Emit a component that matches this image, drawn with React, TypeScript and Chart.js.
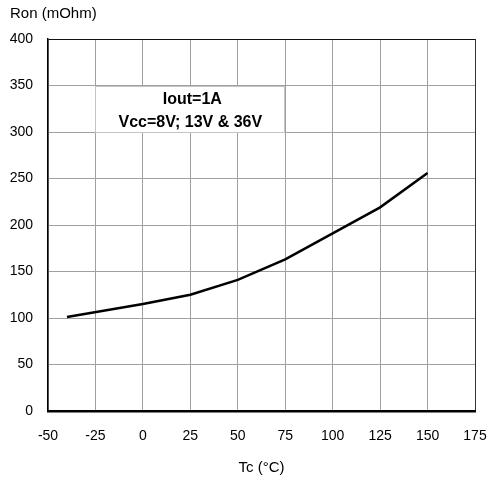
import React, { useEffect, useRef } from "react";
import { Chart, registerables } from "chart.js";

Chart.register(...registerables);

const tempC = [-40, 0, 25, 50, 75, 100, 125, 150];
const ronMOhm = [101, 115, 125, 141, 163, 191, 219, 256];
const xTicks = [-50, -25, 0, 25, 50, 75, 100, 125, 150, 175];
const yTicks = [0, 50, 100, 150, 200, 250, 300, 350, 400];
const noteLines = ["Iout=1A", "Vcc=8V; 13V & 36V"];
const noteBox = { x0: -25, x1: 75, y0: 300, y1: 350, xText: 25 };
const yTitle = "Ron (mOhm)";
const xTitle = "Tc (°C)";

const FONT = "'Liberation Sans', Arial, sans-serif";

const overlay = {
  id: "overlay",
  afterDraw(chart: any) {
    const { ctx, scales } = chart;
    const xs = scales.x;
    const ys = scales.y;
    const l = Math.round(xs.getPixelForValue(noteBox.x0));
    const r = Math.round(xs.getPixelForValue(noteBox.x1));
    const t = Math.round(ys.getPixelForValue(noteBox.y1));
    const b = Math.round(ys.getPixelForValue(noteBox.y0));
    ctx.save();
    ctx.fillStyle = "#ffffff";
    ctx.fillRect(l, t, r - l, b - t);
    ctx.strokeStyle = "#c4c4c4";
    ctx.lineWidth = 1;
    ctx.strokeRect(l + 0.5, t + 0.5, r - l - 1, b - t);
    ctx.fillStyle = "#000000";
    ctx.font = `bold 16px ${FONT}`;
    ctx.textAlign = "center";
    ctx.textBaseline = "middle";
    const cx = xs.getPixelForValue(noteBox.xText);
    ctx.fillText(noteLines[0], cx + 2, t + 14);
    ctx.fillText(noteLines[1], cx, t + 37);
    // y title
    ctx.font = `15px ${FONT}`;
    ctx.textAlign = "left";
    ctx.fillText(yTitle, 10, 14);
    ctx.restore();
  },
};

export default function App() {
  const ref = useRef<HTMLCanvasElement>(null);
  useEffect(() => {
    document.body.style.margin = "0";
    const chart = new Chart(ref.current!, {
      type: "line",
      data: {
        datasets: [
          {
            data: tempC.map((x, i) => ({ x, y: ronMOhm[i] })),
            borderColor: "#000000",
            borderWidth: 2.5,
            pointRadius: 0,
            tension: 0,
            fill: false,
          },
        ],
      },
      options: {
        animation: false,
        responsive: false,
        devicePixelRatio: 1,
        layout: { padding: { top: 39, right: 16, left: 0, bottom: 0 } },
        plugins: { legend: { display: false }, tooltip: { enabled: false }, title: { display: false } },
        scales: {
          x: {
            type: "linear",
            min: -50,
            max: 175,
            afterBuildTicks: (s: any) => {
              s.ticks = xTicks.map((v) => ({ value: v }));
            },
            afterFit: (s: any) => {
              s.height = 69;
              s.paddingLeft = 0;
              s.paddingRight = 0;
            },
            ticks: {
              color: "#000000",
              font: { family: FONT, size: 14 },
              padding: 17,
              maxRotation: 0,
              autoSkip: false,
            },
            grid: {
              drawTicks: false,
              color: (c: any) => (c.tick && c.tick.value === 175 ? "#333333" : "#a0a0a0"),
              lineWidth: 1,
            },
            border: { color: "#000000", width: 2.5 },
            title: {
              display: true,
              text: xTitle,
              color: "#000000",
              font: { family: FONT, size: 15 },
              padding: { top: 0, bottom: 3 },
            },
          },
          y: {
            type: "linear",
            min: 0,
            max: 400,
            afterBuildTicks: (s: any) => {
              s.ticks = yTicks.map((v) => ({ value: v }));
            },
            afterFit: (s: any) => {
              s.width = 48;
              s.paddingTop = 0;
              s.paddingBottom = 0;
            },
            ticks: {
              color: "#000000",
              font: { family: FONT, size: 14 },
              padding: 15,
              autoSkip: false,
            },
            grid: {
              drawTicks: false,
              color: (c: any) => (c.tick && c.tick.value === 400 ? "#111111" : "#a0a0a0"),
              lineWidth: 1,
            },
            border: { color: "#000000", width: 1.5 },
          },
        },
      },
      plugins: [overlay],
    });
    return () => chart.destroy();
  }, []);
  return (
    <div style={{ width: 491, height: 480 }}>
      <canvas ref={ref} width={491} height={480} style={{ display: "block" }} />
    </div>
  );
}
